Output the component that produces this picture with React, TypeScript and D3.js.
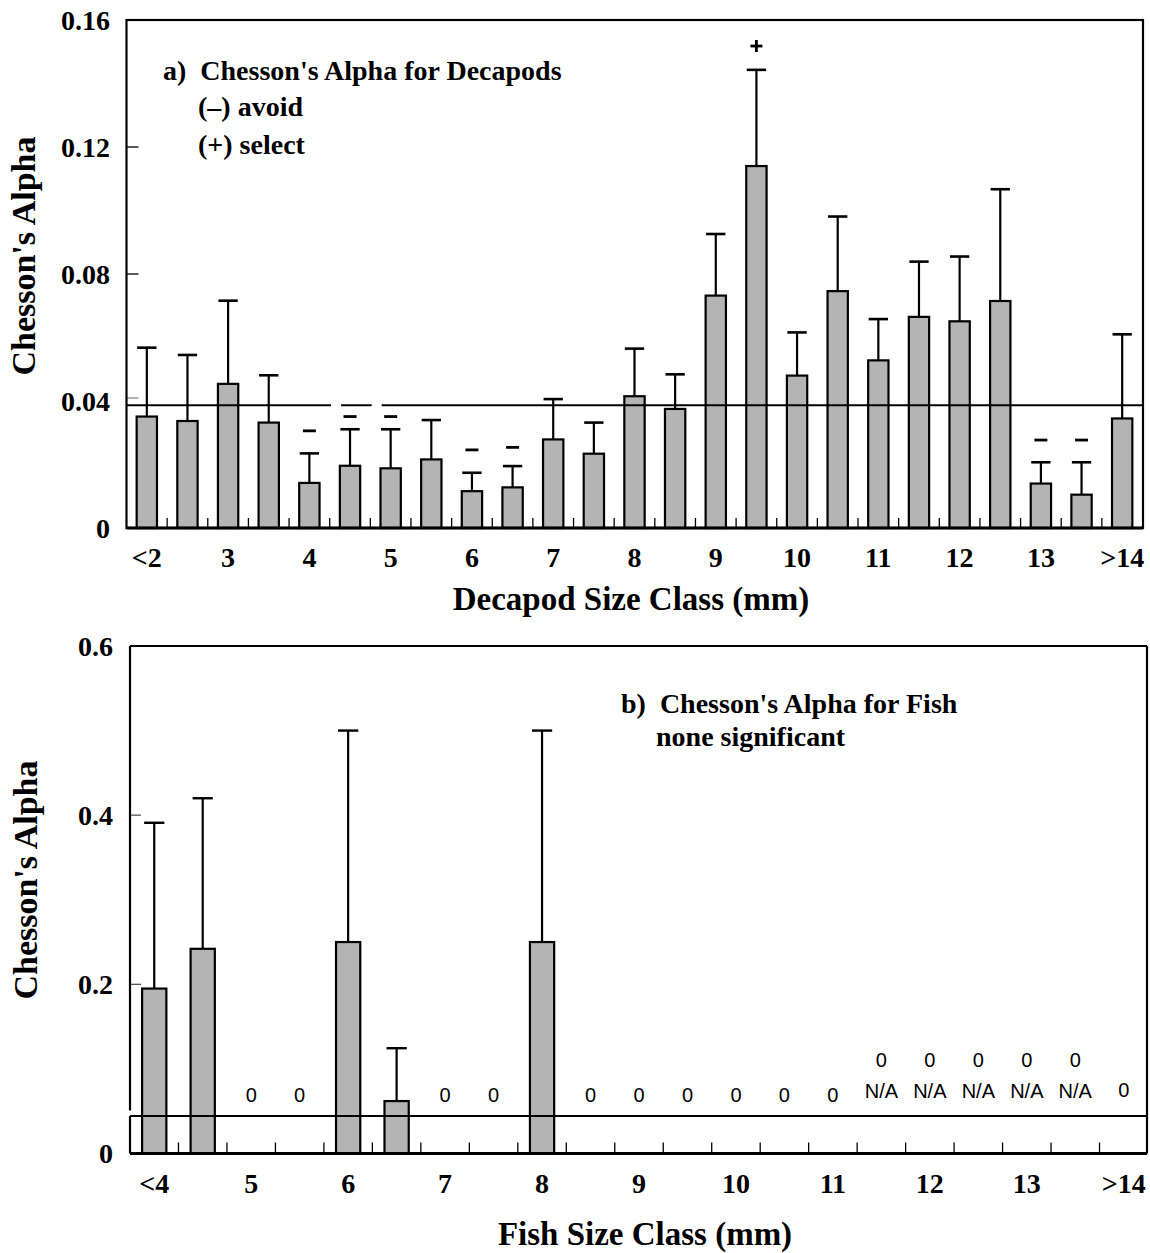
import React from "react";
import * as d3 from "d3";

// ---------- Panel a: decapods ----------
const decapodClasses = ["<2","2.5","3","3.5","4","4.5","5","5.5","6","6.5","7","7.5","8","8.5","9","9.5","10","10.5","11","11.5","12","12.5","13","13.5",">14"];
const decapodTickLabels = ["<2","3","4","5","6","7","8","9","10","11","12","13",">14"];
const decapodAlpha = [0.0351,0.0337,0.0454,0.0332,0.0142,0.0196,0.0188,0.0216,0.0116,0.0128,0.0279,0.0234,0.0415,0.0375,0.0732,0.1140,0.0480,0.0746,0.0528,0.0665,0.0651,0.0715,0.0140,0.0105,0.0345];
const decapodUpper = [0.0568,0.0545,0.0716,0.0481,0.0235,0.0311,0.0311,0.0340,0.0174,0.0195,0.0406,0.0332,0.0565,0.0484,0.0926,0.1443,0.0616,0.0981,0.0658,0.0839,0.0855,0.1067,0.0207,0.0207,0.0610];
const decapodYTicks = [0, 0.04, 0.08, 0.12, 0.16];
const decapodRefLine = 0.0387;
const decapodAvoidClasses = ["4","4.5","5","6","6.5","13","13.5"];
const decapodAvoidAt = [0.0306,0.0351,0.0351,0.0246,0.0254,0.0277,0.0277];
const decapodSelectClasses = ["9.5"];
const decapodSelectAt = [0.1518];
const decapodLineBreakClasses = ["4.5","5"];

// ---------- Panel b: fish ----------
const fishClasses = ["<4","4.5","5","5.5","6","6.5","7","7.5","8","8.5","9","9.5","10","10.5","11","11.5","12","12.5","13","13.5",">14"];
const fishTickLabels = ["<4","5","6","7","8","9","10","11","12","13",">14"];
const fishAlpha = [0.195,0.242,0,0,0.25,0.062,0,0,0.25,0,0,0,0,0,0,0,0,0,0,0,0];
const fishUpper = [0.391,0.42,null,null,0.50,0.1245,null,null,0.50,null,null,null,null,null,null,null,null,null,null,null,null];
const fishNoteLower = ["","","0","0","","","0","0","","0","0","0","0","0","0","N/A","N/A","N/A","N/A","N/A","0"];
const fishNoteUpper = ["","","","","","","","","","","","","","","","0","0","0","0","0",""];
const fishYTicks = [0, 0.2, 0.4, 0.6];
const fishRefLine = 0.0444;

const SERIF = "'Liberation Serif', 'Times New Roman', serif";
const SANS = "'Liberation Sans', Arial, sans-serif";
const BAR_FILL = "#b4b4b4";

export default function App() {
  // panel a geometry
  const aLeft = 126.5, aRight = 1143, aTop = 20, aBottom = 528;
  const xa = d3.scaleBand<string>().domain(decapodClasses).range([126.5, 1142.5]).padding(0);
  const ya = d3.scaleLinear().domain([0, 0.16]).range([aBottom, aTop]);
  const bwA = xa.step() * 0.5;
  const ca = (c: string) => (xa(c) as number) + xa.step() / 2;

  // panel b geometry
  const bLeft = 130, bRight = 1147, bTop = 646, bBottom = 1153.5;
  const xb = d3.scaleBand<string>().domain(fishClasses).range([130, 1148]).padding(0);
  const yb = d3.scaleLinear().domain([0, 0.6]).range([bBottom, bTop]);
  const bwB = xb.step() * 0.5;
  const cb = (c: string) => (xb(c) as number) + xb.step() / 2;

  const boldText = { fontFamily: SERIF, fontWeight: 700 as const };

  return (
    <svg width={1150} height={1253} style={{ position: "absolute", left: 0, top: 0, background: "#fff" }}>
      <rect x={0} y={0} width={1150} height={1253} fill="#fff" />

      {/* ================= Panel a ================= */}
      {decapodClasses.map((c, i) => (
        <rect key={"ab" + i} x={ca(c) - bwA / 2} y={ya(decapodAlpha[i])} width={bwA}
          height={ya(0) - ya(decapodAlpha[i])} fill={BAR_FILL} stroke="#000" strokeWidth={2.2} />
      ))}
      <line x1={aLeft} x2={aRight} y1={ya(decapodRefLine)} y2={ya(decapodRefLine)} stroke="#000" strokeWidth={2} />
      {decapodLineBreakClasses.map((c, i) => (
        <rect key={"lb" + i} x={ca(c) - 19} y={ya(decapodRefLine) - 2} width={10} height={4} fill="#fff" />
      ))}
      {decapodClasses.map((c, i) => (
        <g key={"ae" + i} stroke="#000">
          <line x1={ca(c)} x2={ca(c)} y1={ya(decapodAlpha[i])} y2={ya(decapodUpper[i])} strokeWidth={2.2} />
          <line x1={ca(c) - bwA / 2 + 0.5} x2={ca(c) + bwA / 2 - 0.5} y1={ya(decapodUpper[i])} y2={ya(decapodUpper[i])} strokeWidth={2.6} />
        </g>
      ))}
      {decapodAvoidClasses.map((c, i) => (
        <line key={"am" + i} x1={ca(c) - 6.5} x2={ca(c) + 6.5} y1={ya(decapodAvoidAt[i])} y2={ya(decapodAvoidAt[i])} stroke="#000" strokeWidth={2.8} />
      ))}
      {decapodSelectClasses.map((c, i) => (
        <g key={"sm" + i} stroke="#000" strokeWidth={2.8}>
          <line x1={ca(c) - 6} x2={ca(c) + 6} y1={ya(decapodSelectAt[i])} y2={ya(decapodSelectAt[i])} />
          <line x1={ca(c)} x2={ca(c)} y1={ya(decapodSelectAt[i]) - 6} y2={ya(decapodSelectAt[i]) + 6} />
        </g>
      ))}
      {decapodClasses.slice(1).map((c, i) => (
        <line key={"amt" + i} x1={xa(c) as number} x2={xa(c) as number} y1={aBottom} y2={aBottom - 10} stroke="#000" strokeWidth={1.3} />
      ))}
      {decapodYTicks.filter(t => t > 0 && t < 0.16).map((t, i) => (
        <line key={"ayt" + i} x1={aLeft} x2={aLeft + 12} y1={ya(t) - (t === 0.04 ? 3 : 0)} y2={ya(t) - (t === 0.04 ? 3 : 0)} stroke={t === 0.04 ? "#888" : "#000"} strokeWidth={1.3} />
      ))}
      <rect x={aLeft} y={aTop} width={aRight - aLeft} height={aBottom - aTop} fill="none" stroke="#000" strokeWidth={2.2} />
      <line x1={aLeft} x2={aRight} y1={aBottom} y2={aBottom} stroke="#000" strokeWidth={2.8} />
      {decapodYTicks.map((t, i) => (
        <text key={"ayl" + i} x={110} y={ya(t)} dy="0.35em" textAnchor="end" fontSize={28} {...boldText}>
          {t === 0 ? "0" : d3.format(".2f")(t)}
        </text>
      ))}
      {decapodTickLabels.map((l, i) => (
        <text key={"axl" + i} x={ca(l)} y={567} textAnchor="middle" fontSize={28} {...boldText}>{l}</text>
      ))}
      <text x={631} y={610} textAnchor="middle" fontSize={33} {...boldText}>Decapod Size Class (mm)</text>
      <text transform={`translate(35,256) rotate(-90)`} textAnchor="middle" fontSize={34} {...boldText}>Chesson's Alpha</text>
      <text x={163} y={80} fontSize={28} {...boldText} style={{ whiteSpace: "pre" }}>{"a)  Chesson's Alpha for Decapods"}</text>
      <text x={198} y={116} fontSize={28} {...boldText}>(–) avoid</text>
      <text x={198} y={154} fontSize={28} {...boldText}>(+) select</text>

      {/* ================= Panel b ================= */}
      {fishClasses.map((c, i) => fishAlpha[i] > 0 ? (
        <rect key={"bb" + i} x={cb(c) - bwB / 2} y={yb(fishAlpha[i])} width={bwB}
          height={yb(0) - yb(fishAlpha[i])} fill={BAR_FILL} stroke="#000" strokeWidth={2.2} />
      ) : null)}
      <line x1={bLeft} x2={bRight} y1={yb(fishRefLine)} y2={yb(fishRefLine)} stroke="#000" strokeWidth={2} />
      {fishClasses.map((c, i) => fishUpper[i] != null ? (
        <g key={"be" + i} stroke="#000">
          <line x1={cb(c)} x2={cb(c)} y1={yb(fishAlpha[i])} y2={yb(fishUpper[i] as number)} strokeWidth={2.2} />
          <line x1={cb(c) - bwB / 2 + 2} x2={cb(c) + bwB / 2 - 2} y1={yb(fishUpper[i] as number)} y2={yb(fishUpper[i] as number)} strokeWidth={2.4} />
        </g>
      ) : null)}
      {fishClasses.slice(1).map((c, i) => (
        <line key={"bmt" + i} x1={xb(c) as number} x2={xb(c) as number} y1={bBottom} y2={bBottom - 11} stroke="#000" strokeWidth={1.3} />
      ))}
      {fishYTicks.filter(t => t > 0 && t < 0.6).map((t, i) => (
        <line key={"byt" + i} x1={bLeft} x2={bLeft + 11} y1={yb(t)} y2={yb(t)} stroke="#555" strokeWidth={1.3} />
      ))}
      <line x1={bLeft} x2={bRight} y1={bTop} y2={bTop} stroke="#000" strokeWidth={2.2} />
      <line x1={bRight} x2={bRight} y1={bTop} y2={bBottom} stroke="#000" strokeWidth={2.2} />
      <line x1={bLeft} x2={bLeft} y1={bTop} y2={yb(fishRefLine) - 5.5} stroke="#000" strokeWidth={2.2} />
      <line x1={bLeft} x2={bLeft} y1={yb(fishRefLine)} y2={bBottom} stroke="#000" strokeWidth={2.2} />
      <line x1={bLeft} x2={bRight} y1={bBottom} y2={bBottom} stroke="#000" strokeWidth={2.8} />
      {fishClasses.map((c, i) => fishNoteLower[i] ? (
        <text key={"nl" + i} x={cb(c)} y={fishNoteLower[i] === "N/A" ? 1098 : (i === fishClasses.length - 1 ? 1097 : 1102)} textAnchor="middle" fontSize={20} fontFamily={SANS}>{fishNoteLower[i]}</text>
      ) : null)}
      {fishClasses.map((c, i) => fishNoteUpper[i] ? (
        <text key={"nu" + i} x={cb(c)} y={1067} textAnchor="middle" fontSize={20} fontFamily={SANS}>{fishNoteUpper[i]}</text>
      ) : null)}
      {fishYTicks.map((t, i) => (
        <text key={"byl" + i} x={113} y={yb(t)} dy="0.35em" textAnchor="end" fontSize={28} {...boldText}>
          {t === 0 ? "0" : d3.format(".1f")(t)}
        </text>
      ))}
      {fishTickLabels.map((l, i) => (
        <text key={"bxl" + i} x={cb(l)} y={1193} textAnchor="middle" fontSize={28} {...boldText}>{l}</text>
      ))}
      <text x={645} y={1245} textAnchor="middle" fontSize={33} {...boldText}>Fish Size Class (mm)</text>
      <text transform={`translate(37,880) rotate(-90)`} textAnchor="middle" fontSize={34} {...boldText}>Chesson's Alpha</text>
      <text x={621} y={713} fontSize={28} {...boldText} style={{ whiteSpace: "pre" }}>{"b)  Chesson's Alpha for Fish"}</text>
      <text x={656} y={746} fontSize={28} {...boldText}>none significant</text>
    </svg>
  );
}
